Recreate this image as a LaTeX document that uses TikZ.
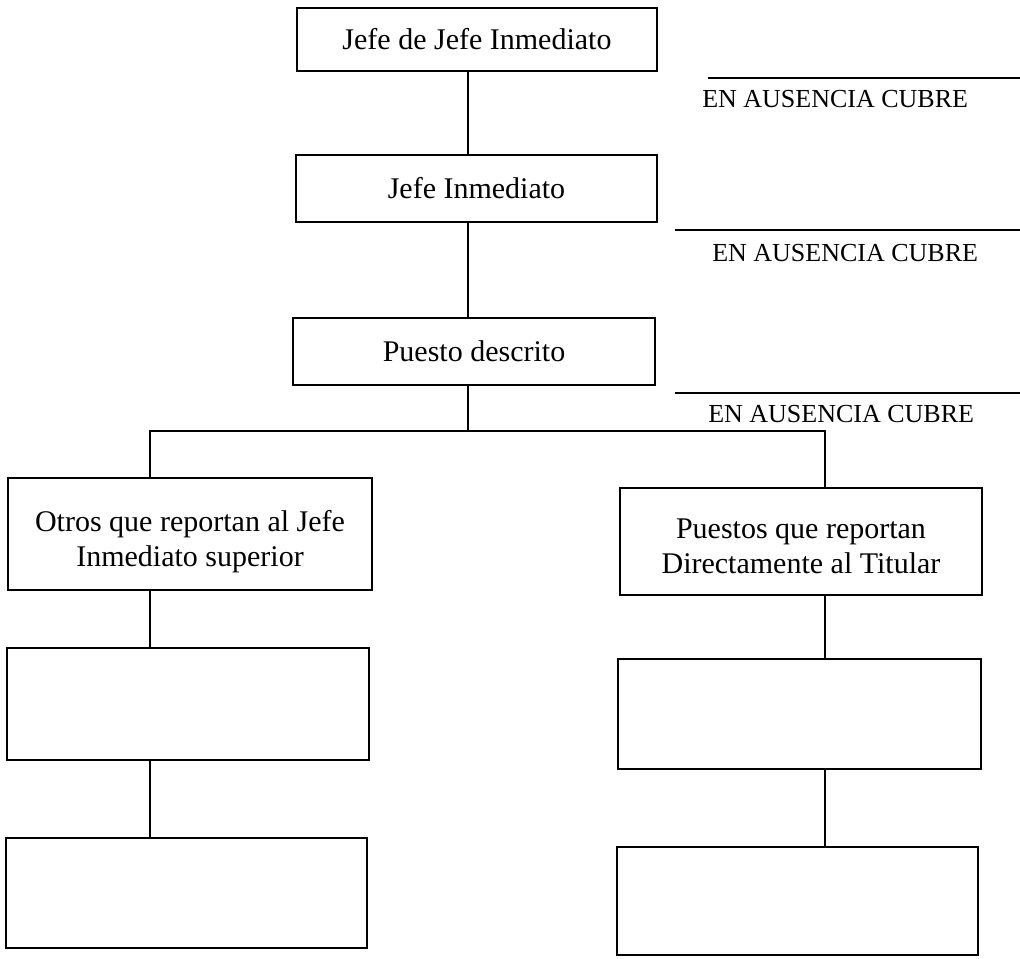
\documentclass[tikz,border=0pt]{standalone}
\usepackage{fontspec}
\setmainfont{Liberation Serif}
\begin{document}
\begin{tikzpicture}[x=0.75pt,y=-0.75pt]
\tikzset{
  orgbox/.style={draw=black, line width=1.9pt, align=center, inner sep=0pt,
    font=\fontsize{22.5}{26}\selectfont},
  boxtext/.style={align=center, inner sep=0pt, anchor=north,
    font=\fontsize{22.5}{26}\selectfont},
  conn/.style={line width=1.8pt},
  rule/.style={line width=1.9pt},
  lbl/.style={anchor=base west, inner sep=0pt, font=\fontsize{19.5}{22}\selectfont}
}
\useasboundingbox (0,0) rectangle (1020,958);

% main column
\node[orgbox, minimum width=270pt, minimum height=47.25pt] (A) at (477,39.5) {Jefe de Jefe Inmediato};
\node[orgbox, minimum width=270.75pt, minimum height=50.25pt] (B) at (476.5,188.5) {Jefe Inmediato};
\node[orgbox, minimum width=271.5pt, minimum height=50.25pt] (C) at (474,351.5) {Puesto descrito};

% lower boxes
\node[orgbox, minimum width=273pt, minimum height=84pt] (D) at (190,534) {};
\node[boxtext] (Dt) at ([yshift=-25pt]D.north) {Otros que reportan al Jefe\\Inmediato superior};
\node[orgbox, minimum width=271.5pt, minimum height=80.25pt] (E) at (801,541.5) {};
\node[boxtext] (Et) at ([yshift=-24pt]E.north) {Puestos que reportan\\Directamente al Titular};
\node[orgbox, minimum width=271.5pt, minimum height=84pt] (F) at (188,704) {};
\node[orgbox, minimum width=272.25pt, minimum height=82.5pt] (G) at (799.5,714) {};
\node[orgbox, minimum width=270.75pt, minimum height=82.5pt] (H) at (186.5,893) {};
\node[orgbox, minimum width=270.75pt, minimum height=81pt] (I) at (797.5,901) {};

% connector guides
\coordinate (spine) at (468,0);
\coordinate (lsp) at (150,0);
\coordinate (rsp) at (825,0);
\coordinate (bus) at (0,431);

\draw[conn] (A.south -| spine) -- (B.north -| spine);
\draw[conn] (B.south -| spine) -- (C.north -| spine);
\draw[conn] (C.south -| spine) -- (bus -| spine);
\draw[conn] (D.north -| lsp) -- (bus -| lsp) -- (bus -| rsp) -- (E.north -| rsp);
\draw[conn] (D.south -| lsp) -- (F.north -| lsp);
\draw[conn] (F.south -| lsp) -- (H.north -| lsp);
\draw[conn] (E.south -| rsp) -- (G.north -| rsp);
\draw[conn] (G.south -| rsp) -- (I.north -| rsp);

% "EN AUSENCIA CUBRE" lines and labels
\coordinate (r1a) at (708,78);  \coordinate (r1b) at (1020,78);
\coordinate (r2a) at (675,230); \coordinate (r2b) at (1020,230);
\coordinate (r3a) at (675,393); \coordinate (r3b) at (1020,393);
\draw[rule] (r1a) -- (r1b);
\draw[rule] (r2a) -- (r2b);
\draw[rule] (r3a) -- (r3b);
\node[lbl] (L1) at (702,107) {EN AUSENCIA CUBRE};
\node[lbl] (L2) at (712,261) {EN AUSENCIA CUBRE};
\node[lbl] (L3) at (708,422) {EN AUSENCIA CUBRE};
\end{tikzpicture}
\end{document}
